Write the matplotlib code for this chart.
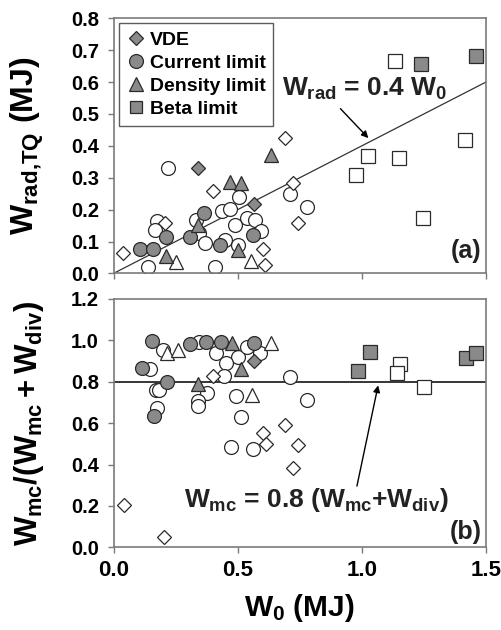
import matplotlib
matplotlib.use("Agg")
import matplotlib.pyplot as plt
from matplotlib.lines import Line2D

plt.rcParams['font.family'] = ['Liberation Sans', 'DejaVu Sans']
plt.rcParams['font.weight'] = 'bold'
plt.rcParams['mathtext.fontset'] = 'custom'
plt.rcParams['mathtext.rm'] = 'Liberation Sans:bold'
plt.rcParams['mathtext.it'] = 'Liberation Sans:bold'
plt.rcParams['mathtext.bf'] = 'Liberation Sans:bold'

# ---------------- data : panel (a) ----------------
vde_filled_a_x = [0.339, 0.564]
vde_filled_a_y = [0.332, 0.217]
vde_open_a_x = [0.037, 0.402, 0.690, 0.722, 0.743, 0.601, 0.611, 0.208]
vde_open_a_y = [0.063, 0.258, 0.424, 0.282, 0.159, 0.078, 0.026, 0.159]
cur_filled_a_x = [0.107, 0.158, 0.210, 0.308, 0.366, 0.429, 0.560]
cur_filled_a_y = [0.078, 0.075, 0.115, 0.113, 0.188, 0.089, 0.122]
cur_open_a_x = [0.218, 0.140, 0.409, 0.174, 0.167, 0.333, 0.345, 0.369, 0.436, 0.470,
                0.507, 0.537, 0.571, 0.490, 0.594, 0.450, 0.503, 0.712, 0.779]
cur_open_a_y = [0.332, 0.021, 0.021, 0.164, 0.136, 0.167, 0.128, 0.094, 0.195, 0.201,
                0.240, 0.175, 0.167, 0.152, 0.133, 0.104, 0.089, 0.249, 0.209]
den_filled_a_x = [0.212, 0.339, 0.470, 0.513, 0.501, 0.635]
den_filled_a_y = [0.054, 0.152, 0.287, 0.282, 0.073, 0.371]
den_open_a_x = [0.251, 0.553]
den_open_a_y = [0.037, 0.040]
beta_filled_a_x = [1.239, 1.460]
beta_filled_a_y = [0.656, 0.682]
beta_open_a_x = [1.132, 0.978, 1.025, 1.148, 1.416, 1.248]
beta_open_a_y = [0.666, 0.308, 0.368, 0.363, 0.418, 0.175]

# ---------------- data : panel (b) ----------------
vde_filled_b_x = [0.564]
vde_filled_b_y = [0.901]
vde_open_b_x = [0.042, 0.205, 0.400, 0.604, 0.615, 0.692, 0.743, 0.722]
vde_open_b_y = [0.204, 0.052, 0.827, 0.552, 0.499, 0.592, 0.495, 0.384]
cur_filled_b_x = [0.154, 0.308, 0.373, 0.433, 0.564, 0.114, 0.215, 0.165]
cur_filled_b_y = [0.996, 0.981, 0.992, 0.992, 0.987, 0.864, 0.800, 0.632]
cur_open_b_x = [0.200, 0.345, 0.413, 0.501, 0.454, 0.537, 0.591, 0.147, 0.443, 0.712,
                0.171, 0.185, 0.378, 0.342, 0.342, 0.494, 0.779, 0.174, 0.514, 0.474, 0.561]
cur_open_b_y = [0.950, 0.990, 0.937, 0.920, 0.888, 0.968, 0.939, 0.860, 0.827, 0.824,
                0.757, 0.760, 0.744, 0.704, 0.683, 0.731, 0.712, 0.672, 0.629, 0.483, 0.475]
den_filled_b_x = [0.477, 0.514, 0.342]
den_filled_b_y = [0.987, 0.860, 0.789]
den_open_b_x = [0.217, 0.259, 0.635, 0.557]
den_open_b_y = [0.939, 0.952, 0.987, 0.736]
beta_filled_b_x = [0.985, 1.031, 1.420, 1.460]
beta_filled_b_y = [0.851, 0.941, 0.915, 0.937]
beta_open_b_x = [1.152, 1.142, 1.249]
beta_open_b_y = [0.885, 0.840, 0.773]

legend_labels = ["VDE", "Current limit", "Density limit", "Beta limit"]
x_ticks = [0.0, 0.5, 1.0, 1.5]
ya_ticks = [0.0, 0.1, 0.2, 0.3, 0.4, 0.5, 0.6, 0.7, 0.8]
yb_ticks = [0.0, 0.2, 0.4, 0.6, 0.8, 1.0, 1.2]
fit_slope = 0.4
ratio_level = 0.8

GRAY = '#8a8a8a'
EDGE = '#2a2a2a'
SPINE = '#7a7a7a'

fig = plt.figure(figsize=(5.01, 6.30), dpi=100)
ax1 = fig.add_axes([0.2266, 0.566, 0.7434, 0.405])
ax2 = fig.add_axes([0.2266, 0.131, 0.7434, 0.395])

sizes = {'D': 7.2, 'o': 10.0, '^': 10.0, 's': 9.5}

def draw(ax, groups):
    for (x, y, m, filled) in groups:
        ax.plot(x, y, linestyle='none', marker=m, markersize=sizes[m],
                markerfacecolor=(GRAY if filled else 'white'),
                markeredgecolor=EDGE, markeredgewidth=0.9)

draw(ax1, [
    (cur_open_a_x, cur_open_a_y, 'o', False),
    (vde_open_a_x, vde_open_a_y, 'D', False),
    (den_open_a_x, den_open_a_y, '^', False),
    (beta_open_a_x, beta_open_a_y, 's', False),
    (cur_filled_a_x, cur_filled_a_y, 'o', True),
    (vde_filled_a_x, vde_filled_a_y, 'D', True),
    (den_filled_a_x, den_filled_a_y, '^', True),
    (beta_filled_a_x, beta_filled_a_y, 's', True),
])
draw(ax2, [
    (cur_open_b_x, cur_open_b_y, 'o', False),
    (vde_open_b_x, vde_open_b_y, 'D', False),
    (den_open_b_x, den_open_b_y, '^', False),
    (beta_open_b_x, beta_open_b_y, 's', False),
    (cur_filled_b_x, cur_filled_b_y, 'o', True),
    (vde_filled_b_x, vde_filled_b_y, 'D', True),
    (den_filled_b_x, den_filled_b_y, '^', True),
    (beta_filled_b_x, beta_filled_b_y, 's', True),
])

# fit lines
ax1.plot([0, 1.5], [0, fit_slope * 1.5], color='#333333', lw=0.9, zorder=1)
ax2.axhline(ratio_level, color='black', lw=1.1, zorder=1)

for ax in (ax1, ax2):
    ax.set_xlim(0, 1.5)
    ax.set_xticks(x_ticks)
    for s in ax.spines.values():
        s.set_color(SPINE)
        s.set_linewidth(1.2)
    ax.tick_params(direction='out', length=4, width=1, color=SPINE)
    ax.tick_params(axis='y', pad=6.5)

ax1.set_ylim(0, 0.8)
ax1.set_yticks(ya_ticks)
ax1.set_yticklabels([f"{v:.1f}" for v in ya_ticks], fontsize=14.5, fontweight='bold')
ax1.set_xticklabels([])
ax2.set_ylim(0, 1.2)
ax2.set_yticks(yb_ticks)
ax2.set_yticklabels([f"{v:.1f}" for v in yb_ticks], fontsize=14.5, fontweight='bold')
ax2.set_xticklabels([f"{v:.1f}" for v in x_ticks], fontsize=16, fontweight='bold')
ax2.tick_params(axis='x', pad=5)

ax1.set_ylabel(r'$W_{rad{,}TQ}$ (MJ)', fontsize=23, fontweight='bold')
ax2.set_ylabel(r'$W_{mc}/(W_{mc}+ W_{div})$', fontsize=22.5, fontweight='bold')
ax1.yaxis.set_label_coords(-0.182, 0.5)
ax2.yaxis.set_label_coords(-0.182, 0.5)
ax2.set_xlabel(r'$W_0$ (MJ)', fontsize=21.5, fontweight='bold', labelpad=8)

# legend
handles = [
    Line2D([], [], ls='none', marker='D', markersize=7.5, mfc=GRAY, mec=EDGE, mew=0.9),
    Line2D([], [], ls='none', marker='o', markersize=10, mfc=GRAY, mec=EDGE, mew=0.9),
    Line2D([], [], ls='none', marker='^', markersize=10, mfc=GRAY, mec=EDGE, mew=0.9),
    Line2D([], [], ls='none', marker='s', markersize=9, mfc=GRAY, mec=EDGE, mew=0.9),
]
leg = ax1.legend(handles, legend_labels, loc='upper left', bbox_to_anchor=(0.016, 0.98),
                 prop={'family': 'Liberation Sans', 'weight': 'bold', 'size': 14},
                 frameon=True, fancybox=False, handlelength=0.9, handletextpad=0.25,
                 borderpad=0.4, labelspacing=0.28, borderaxespad=0.0)
leg.get_frame().set_edgecolor('#333333')
leg.get_frame().set_linewidth(1.0)

# annotations
ax1.annotate('', xy=(1.034, 0.418), xytext=(0.906, 0.523),
             arrowprops=dict(arrowstyle='-|>', color='black', lw=1.0, mutation_scale=10))
ax1.text(1.012, 0.58, r'$W_{rad}$ = 0.4 $W_0$', fontsize=19, fontweight='bold',
         ha='center', va='center', color='#222222')
ax1.text(0.988, 0.04, '(a)', transform=ax1.transAxes, fontsize=18, fontweight='bold',
         ha='right', va='bottom', color='#222222')

ax2.annotate('', xy=(1.068, 0.795), xytext=(0.978, 0.283),
             arrowprops=dict(arrowstyle='-|>', color='black', lw=1.0, mutation_scale=10))
ax2.text(0.815, 0.228, r'$W_{mc}$ = 0.8 ($W_{mc}$+$W_{div}$)', fontsize=19, fontweight='bold',
         ha='center', va='center', color='#222222')
ax2.text(0.988, 0.015, '(b)', transform=ax2.transAxes, fontsize=18, fontweight='bold',
         ha='right', va='bottom', color='#222222')

fig.savefig('out.png', dpi=100)
